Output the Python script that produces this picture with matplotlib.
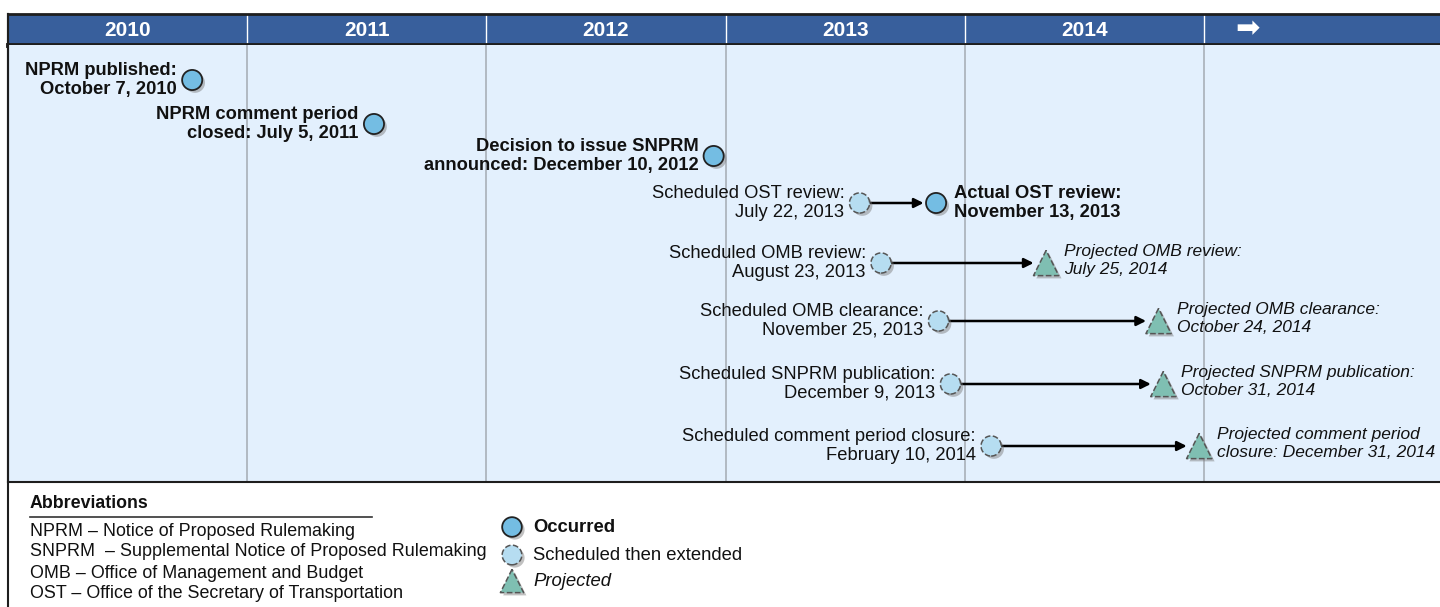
import matplotlib.pyplot as plt
import matplotlib.patheffects as pe
from matplotlib.lines import Line2D

plt.rcParams['font.family'] = ['Liberation Sans', 'DejaVu Sans']

# header columns
col_starts = [2010, 2011, 2012, 2013, 2014, 2015]
col_labels = ['2010', '2011', '2012', '2013', '2014', '\u27a1']

# events that occurred (position in decimal years, row level)
occ_labels = ['NPRM published:\nOctober 7, 2010',
              'NPRM comment period\nclosed: July 5, 2011',
              'Decision to issue SNPRM\nannounced: December 10, 2012',
              'Actual OST review:\nNovember 13, 2013']
occ_x = [2010.77, 2011.53, 2012.95, 2013.88]
occ_y = [402, 358, 326, 279]
occ_side = ['left', 'left', 'left', 'right']

# scheduled then extended
sched_labels = ['Scheduled OST review:\nJuly 22, 2013',
                'Scheduled OMB review:\nAugust 23, 2013',
                'Scheduled OMB clearance:\nNovember 25, 2013',
                'Scheduled SNPRM publication:\nDecember 9, 2013',
                'Scheduled comment period closure:\nFebruary 10, 2014']
sched_x = [2013.56, 2013.65, 2013.89, 2013.94, 2014.11]
sched_y = [279, 219, 161, 98, 36]

# projected
proj_labels = ['Projected OMB review:\nJuly 25, 2014',
               'Projected OMB clearance:\nOctober 24, 2014',
               'Projected SNPRM publication:\nOctober 31, 2014',
               'Projected comment period\nclosure: December 31, 2014']
proj_x = [2014.34, 2014.81, 2014.83, 2014.98]
proj_y = [219, 161, 98, 36]

abbrevs = ['NPRM \u2013 Notice of Proposed Rulemaking',
           'SNPRM  \u2013 Supplemental Notice of Proposed Rulemaking',
           'OMB \u2013 Office of Management and Budget',
           'OST \u2013 Office of the Secretary of Transportation']

HEAD = '#385f9c'
PANEL = '#e3f0fd'
OCC = '#74bde3'
SCHED = '#b6ddf1'
PROJ = '#7fbfb2'
DARK = '#1e1e1e'
TXT = '#111111'

W, H = 1440, 607
fig = plt.figure(figsize=(W / 100, H / 100), dpi=100)
x0, x1 = 2010, 2010 + 1432 / 239.2

def box(l, t, r, b):
    return [l / W, 1 - b / H, (r - l) / W, (b - t) / H]

# header
axh = fig.add_axes(box(8, 14, 1440, 45))
axh.set_facecolor(HEAD)
axh.set_xlim(x0, x1)
axh.set_ylim(0, 1)
axh.set_xticks([])
axh.set_yticks([])
axh.spines['right'].set_visible(False)
axh.spines['top'].set_linewidth(2)
axh.spines['bottom'].set_linewidth(3.5)
axh.spines['left'].set_linewidth(1.5)
for sp in axh.spines.values():
    sp.set_color(DARK)
for c in col_starts[1:]:
    axh.axvline(c, color='white', lw=1)
for c, lab in zip(col_starts, col_labels):
    if lab == '\u27a1':
        axh.text(c + 0.18, 0.5, lab, color='white', fontsize=21,
                 ha='center', va='center', family=['DejaVu Sans'])
    else:
        axh.text(c + 0.5, 0.47, lab, color='white', fontsize=15,
                 fontweight='bold', ha='center', va='center')

# main panel
ax = fig.add_axes(box(8, 45, 1440, 482))
ax.set_facecolor(PANEL)
ax.set_xlim(x0, x1)
ax.set_ylim(0, 437)
ax.set_xticks([])
ax.set_yticks([])
ax.spines['top'].set_visible(False)
ax.spines['right'].set_visible(False)
ax.spines['left'].set_linewidth(1.5)
ax.spines['bottom'].set_linewidth(1.5)
for sp in ax.spines.values():
    sp.set_color(DARK)
for c in col_starts[1:]:
    ax.axvline(c, color='#a9b0b8', lw=1.2, zorder=1)

shadow = [pe.SimplePatchShadow(offset=(2, -2), shadow_rgbFace='#777777', alpha=0.45), pe.Normal()]

# arrows
for i in range(len(sched_x)):
    if i == 0:
        tx, ty = occ_x[3], occ_y[3]
    else:
        tx, ty = proj_x[i - 1], proj_y[i - 1]
    ax.annotate('', xy=(tx, ty), xytext=(sched_x[i], sched_y[i]),
                arrowprops=dict(arrowstyle='-|>', color='black', lw=1.8,
                                mutation_scale=14, shrinkA=7, shrinkB=9),
                zorder=2)

ax.scatter(occ_x, occ_y, s=210, c=OCC, edgecolors='#222222', linewidths=1.3,
           zorder=4, path_effects=shadow)
ax.scatter(sched_x, sched_y, s=210, c=SCHED, edgecolors='#555555', linewidths=1.1,
           linestyles='--', zorder=4, path_effects=shadow)
ax.scatter(proj_x, proj_y, s=330, c=PROJ, marker='^', edgecolors='#555555',
           linewidths=1.1, linestyles='--', zorder=4, path_effects=shadow)

FS = 13.2
for lab, x, y, side in zip(occ_labels, occ_x, occ_y, occ_side):
    off = -11 if side == 'left' else 13
    ax.annotate(lab, (x, y), xytext=(off, 0), textcoords='offset points',
                ha='right' if side == 'left' else 'left', va='center',
                fontsize=FS, fontweight='bold', color=TXT,
                linespacing=1.08, zorder=3,
                multialignment='right' if side == 'left' else 'left')
for lab, x, y in zip(sched_labels, sched_x, sched_y):
    ax.annotate(lab, (x, y), xytext=(-11, 0), textcoords='offset points',
                ha='right', va='center', fontsize=FS, color=TXT,
                linespacing=1.08, multialignment='right', zorder=3)
for lab, x, y in zip(proj_labels, proj_x, proj_y):
    ax.annotate(lab, (x, y), xytext=(13, 2), textcoords='offset points',
                ha='left', va='center', fontsize=12.5, style='italic',
                color=TXT, linespacing=1.22, zorder=3)

# legend / abbreviations area
axl = fig.add_axes(box(0, 482, 1440, 607))
axl.set_xlim(0, W)
axl.set_ylim(607, 482)
axl.axis('off')
axl.text(30, 503, 'Abbreviations', fontsize=12.8, fontweight='bold',
         va='center', color=TXT)
axl.plot([30, 372], [517, 517], color='#333333', lw=1.2)
for i, t in enumerate(abbrevs):
    axl.text(30, 531 + 21 * i, t, fontsize=12.9, va='center', color=TXT)

leg_y = [527, 555, 582]
axl.scatter([512], [leg_y[0]], s=200, c=OCC, edgecolors='#222222', linewidths=1.3,
            path_effects=shadow, clip_on=False)
axl.scatter([512], [leg_y[1]], s=200, c=SCHED, edgecolors='#555555', linewidths=1.1,
            linestyles='--', path_effects=shadow, clip_on=False)
axl.scatter([512], [leg_y[2] - 1], s=280, marker='^', c=PROJ, edgecolors='#555555',
            linewidths=1.1, linestyles='--', path_effects=shadow, clip_on=False)
axl.text(533, leg_y[0], 'Occurred', fontsize=13.3, fontweight='bold',
         va='center', color=TXT)
axl.text(533, leg_y[1], 'Scheduled then extended', fontsize=13.3,
         va='center', color=TXT)
axl.text(533, leg_y[2], 'Projected', fontsize=13.3, style='italic',
         va='center', color=TXT)

# outer frame on the left
fig.add_artist(Line2D([8 / W, 8 / W], [0, 1 - 14 / H], color=DARK, lw=1.5))

fig.savefig('out.png', dpi=100)
